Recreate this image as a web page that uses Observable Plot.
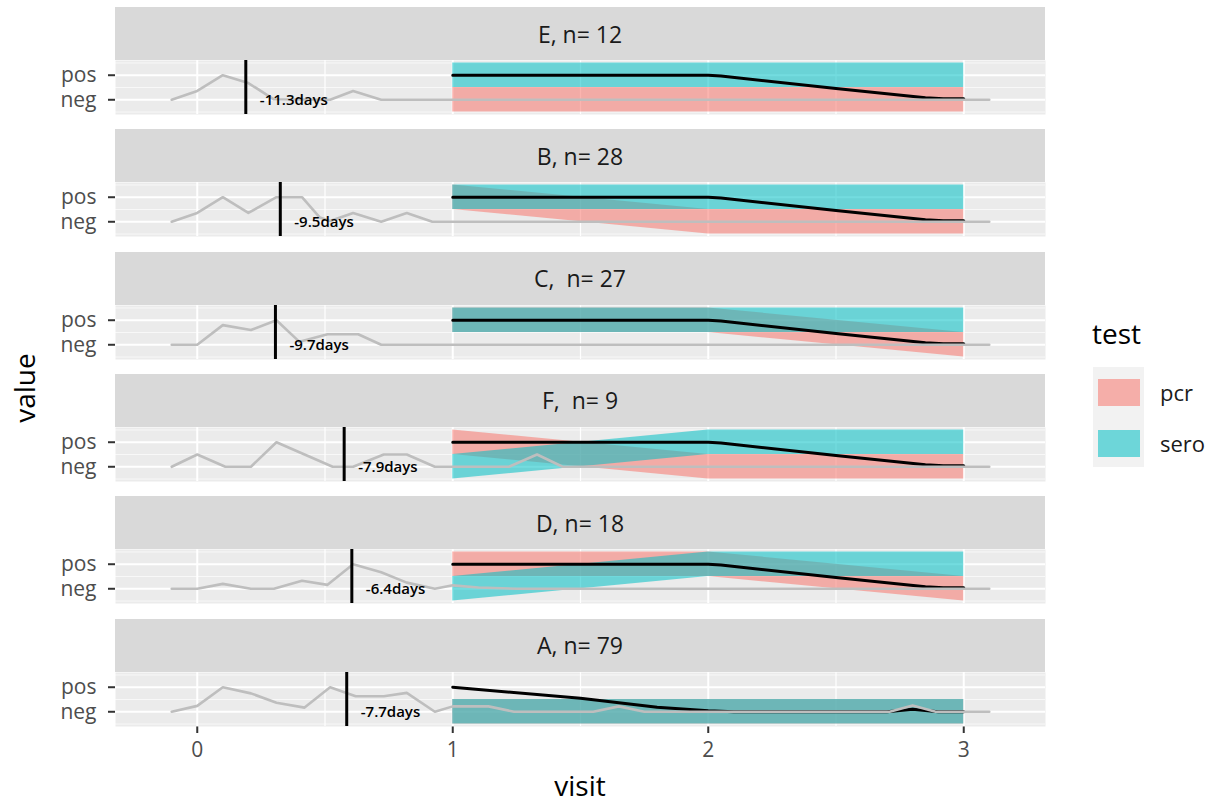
<!DOCTYPE html>
<html><head><meta charset="utf-8">
<script src="https://cdn.jsdelivr.net/npm/d3@7"></script>
<script src="https://cdn.jsdelivr.net/npm/@observablehq/plot@0.6"></script>
<style>
body{margin:0;background:#fff;font-family:"Open Sans",sans-serif;}
#chart{position:relative;width:1216px;height:803px;overflow:hidden;background:#fff;}
.strip{position:absolute;left:115px;width:930px;height:53px;background:#D9D9D9;color:#1A1A1A;font-size:23px;display:flex;align-items:center;justify-content:center;white-space:pre;}
.panel{position:absolute;left:0;}
.panel svg{display:block;}
.panel [aria-label^="y-axis"] line,.panel [aria-label^="y-axis"] path,
.panel [aria-label^="x-axis"] line,.panel [aria-label^="x-axis"] path{stroke:#333;stroke-width:2px;}
.panel [aria-label^="y-axis"] text,.panel [aria-label^="x-axis"] text{fill:#4D4D4D;}
.title{position:absolute;color:#000;font-size:28px;white-space:nowrap;}
.legkey{position:absolute;left:1093px;top:367px;width:51px;height:100px;background:#F2F2F2;}
.sw{position:absolute;left:1098px;width:42px;height:27px;}
.leglab{position:absolute;left:1160px;font-size:22px;color:#1A1A1A;line-height:27px;}
</style></head>
<body><div id="chart"></div>
<script>
// ---- data ----
const facetNames = ["E", "B", "C", "F", "D", "A"];
const stripTitles = ["E, n= 12", "B, n= 28", "C,  n= 27", "F,  n= 9", "D, n= 18", "A, n= 79"];
const tests = ["pcr", "sero"];
const testColors = ["#F8766D", "#00BFC4"];

const yTicks = [0, 1];
const yTickLabels = ["neg", "pos"];
const xTicks = [0, 1, 2, 3];
const xMinor = [0.5, 1.5, 2.5];
const yMinor = [-0.5, 0.5, 1.5];

const onsetVisit = [0.19, 0.325, 0.306, 0.575, 0.605, 0.585];
const onsetLabel = ["-11.3days", "-9.5days", "-9.7days", "-7.9days", "-6.4days", "-7.7days"];

// ribbons at visits 1,2,3
const ribbonVisits = [1, 2, 3];
const pcrLow  = [[-0.5,-0.5,-0.5],[0.5,-0.5,-0.5],[0.5,0.5,-0.5],[0.5,-0.5,-0.5],[0.5,0.5,-0.5],[-0.5,-0.5,-0.5]];
const pcrHigh = [[0.5,0.5,0.5],[1.5,0.5,0.5],[1.5,1.5,0.5],[1.5,0.5,0.5],[1.5,1.5,0.5],[0.5,0.5,0.5]];
const seroLow = [[0.5,0.5,0.5],[0.5,0.5,0.5],[0.5,0.5,0.5],[-0.5,0.5,0.5],[-0.5,0.5,0.5],[-0.5,-0.5,-0.5]];
const seroHigh= [[1.5,1.5,1.5],[1.5,1.5,1.5],[1.5,1.5,1.5],[0.5,1.5,1.5],[0.5,1.5,1.5],[0.5,0.5,0.5]];

// black trend line
const blackVisitStd = [1, 2, 2.05, 2.5, 2.85, 2.92, 3];
const blackValueStd = [1, 1, 0.97, 0.46, 0.08, 0.04, 0.04];
const blackVisitA = [1, 1.5, 1.8, 2, 2.1, 2.7, 2.8, 2.9, 3];
const blackValueA = [1, 0.55, 0.18, 0.04, 0, 0, 0.1, 0, 0];

// gray individual line
const grayVisit = [
  [-0.1, 0, 0.1, 0.2, 0.3, 0.52, 0.61, 0.72, 3.1],
  [-0.1, 0, 0.1, 0.2, 0.31, 0.41, 0.48, 0.52, 0.61, 0.72, 0.82, 0.92, 3.1],
  [-0.1, 0, 0.1, 0.21, 0.31, 0.4, 0.51, 0.63, 0.72, 3.1],
  [-0.1, 0, 0.11, 0.21, 0.31, 0.53, 0.61, 0.73, 0.82, 0.93, 1.22, 1.33, 1.43, 3.1],
  [-0.1, 0, 0.1, 0.21, 0.3, 0.41, 0.51, 0.61, 0.72, 0.82, 0.93, 1.0, 1.1, 1.25, 3.1],
  [-0.1, 0, 0.1, 0.21, 0.31, 0.42, 0.52, 0.62, 0.73, 0.82, 0.93, 1.0, 1.14, 1.24, 1.55, 1.65, 1.75, 2.71, 2.8, 2.89, 3.1]
];
const grayValue = [
  [0, 0.36, 1, 0.68, 0.02, 0, 0.36, 0, 0],
  [0, 0.36, 1, 0.36, 1, 1, 0.17, 0.03, 0.36, 0, 0.36, 0, 0],
  [0, 0, 0.8, 0.6, 1, 0.12, 0.43, 0.43, 0, 0],
  [0, 0.5, 0, 0, 1, 0, 0, 0.5, 0.5, 0, 0, 0.5, 0, 0],
  [0, 0, 0.2, 0, 0, 0.33, 0.16, 1, 0.67, 0.25, 0, 0.14, 0.05, 0, 0],
  [0, 0.24, 1, 0.75, 0.37, 0.17, 1, 0.63, 0.63, 0.77, 0, 0.22, 0.22, 0, 0, 0.22, 0, 0, 0.26, 0, 0]
];

// ---- layout ----
const xDomain = [-0.32, 3.32];
const yDomain = [-0.6, 1.6];
const facetTop0 = 7, facetStep = 122.3, stripH = 53, panelH = 54;

const chart = document.getElementById("chart");

function makePanel(i, last) {
  const rp = ribbonVisits.map((v, k) => ({visit: v, lo: pcrLow[i][k], hi: pcrHigh[i][k]}));
  const rs = ribbonVisits.map((v, k) => ({visit: v, lo: seroLow[i][k], hi: seroHigh[i][k]}));
  const bv = facetNames[i] === "A" ? blackVisitA : blackVisitStd;
  const bval = facetNames[i] === "A" ? blackValueA : blackValueStd;
  const black = bv.map((v, k) => ({visit: v, value: bval[k]}));
  const gray = grayVisit[i].map((v, k) => ({visit: v, value: grayValue[i][k]}));
  const onset = [{visit: onsetVisit[i], value: yTicks[0], label: onsetLabel[i]}];
  return Plot.plot({
    width: 1216,
    height: last ? panelH + 50 : panelH,
    marginLeft: 115, marginRight: 171, marginTop: 0, marginBottom: last ? 50 : 0,
    style: {background: "transparent", fontFamily: "Open Sans", fontSize: "21px", color: "#4D4D4D", overflow: "visible"},
    x: {domain: xDomain, axis: last ? "bottom" : null, ticks: xTicks, tickFormat: d => String(d), tickSize: 7, tickPadding: 9, label: null},
    y: {domain: yDomain, ticks: yTicks, tickFormat: d => yTickLabels[yTicks.indexOf(d)], tickSize: 7, tickPadding: 12, label: null},
    marks: [
      Plot.frame({fill: "#EBEBEB", stroke: "none"}),
      Plot.ruleY(yMinor, {stroke: "white", strokeWidth: 0.8, strokeOpacity: 0.8}),
      Plot.ruleX(xMinor, {stroke: "white", strokeWidth: 1.2}),
      Plot.ruleY(yTicks, {stroke: "white", strokeWidth: 2}),
      Plot.ruleX(xTicks, {stroke: "white", strokeWidth: 2}),
      Plot.areaY(rp, {x: "visit", y1: "lo", y2: "hi", fill: testColors[0], fillOpacity: 0.55}),
      Plot.areaY(rs, {x: "visit", y1: "lo", y2: "hi", fill: testColors[1], fillOpacity: 0.55}),
      Plot.line(black, {x: "visit", y: "value", stroke: "black", strokeWidth: 3}),
      Plot.line(gray, {x: "visit", y: "value", stroke: "#BEBEBE", strokeWidth: 2.6}),
      Plot.ruleX(onset, {x: "visit", stroke: "black", strokeWidth: 3}),
      Plot.text(onset, {x: "visit", y: "value", text: "label", dx: 14, textAnchor: "start", fontSize: 15, fontWeight: 600, fill: "black"})
    ]
  });
}

facetNames.forEach((f, i) => {
  const top = facetTop0 + i * facetStep;
  const strip = document.createElement("div");
  strip.className = "strip";
  strip.style.top = top + "px";
  strip.textContent = stripTitles[i];
  chart.appendChild(strip);
  const holder = document.createElement("div");
  holder.className = "panel";
  holder.style.top = (top + stripH) + "px";
  holder.appendChild(makePanel(i, i === facetNames.length - 1));
  chart.appendChild(holder);
});

// axis titles
const yTitle = document.createElement("div");
yTitle.className = "title";
yTitle.textContent = "value";
yTitle.style.left = "24px"; yTitle.style.top = "388px";
yTitle.style.transform = "translate(-50%,-50%) rotate(-90deg)";
chart.appendChild(yTitle);

const xTitle = document.createElement("div");
xTitle.className = "title";
xTitle.textContent = "visit";
xTitle.style.left = "580px"; xTitle.style.top = "785px";
xTitle.style.transform = "translate(-50%,-50%)";
chart.appendChild(xTitle);

// legend
const legTitle = document.createElement("div");
legTitle.className = "title";
legTitle.textContent = "test";
legTitle.style.left = "1092px"; legTitle.style.top = "314px";
chart.appendChild(legTitle);
const key = document.createElement("div");
key.className = "legkey";
chart.appendChild(key);
tests.forEach((t, k) => {
  const sw = document.createElement("div");
  sw.className = "sw";
  sw.style.top = (379 + k * 51) + "px";
  const c = d3.color(testColors[k]); c.opacity = 0.55;
  sw.style.background = c.formatRgb();
  chart.appendChild(sw);
  const lab = document.createElement("div");
  lab.className = "leglab";
  lab.style.top = (379 + k * 51) + "px";
  lab.textContent = t;
  chart.appendChild(lab);
});
</script>
</body></html>
